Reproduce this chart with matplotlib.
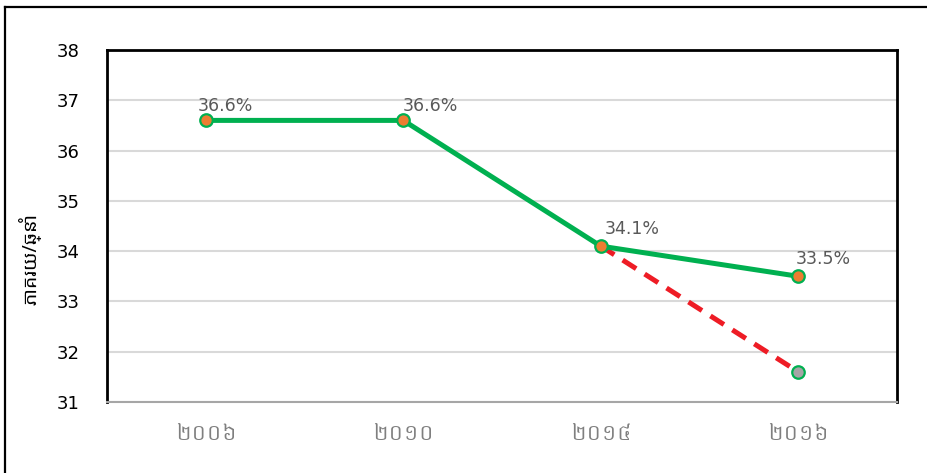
import matplotlib
matplotlib.use('Agg')
import matplotlib.pyplot as plt
from matplotlib import font_manager
from matplotlib.lines import Line2D

years = ['២០០៦', '២០១០', '២០១៤', '២០១៦']
rate = [36.6, 36.6, 34.1, 33.5]
labels = ['36.6%', '36.6%', '34.1%', '33.5%']
proj_idx = [2, 3]
proj = [34.1, 31.6]
ylabel = 'ភាគរយ/ឆ្នាំ'


def find_font(names):
    fonts = font_manager.findSystemFonts()
    for name in names:
        for f in fonts:
            if f.endswith('/' + name):
                return font_manager.FontProperties(fname=f)
    return font_manager.FontProperties(family='DejaVu Sans')


khmer_digits = find_font(['Khmer.ttf', 'Battambang-Regular.ttf', 'NotoSansKhmer[wdth,wght].ttf'])
khmer = find_font(['NotoSansKhmer[wdth,wght].ttf', 'Battambang-Regular.ttf', 'Khmer.ttf'])

fig = plt.figure(figsize=(9.27, 4.73), dpi=100)
ax = fig.add_axes([107/927, 1-402/473, 790/927, 352/473])

x = list(range(len(years)))
ax.plot(proj_idx, proj, color='#EE1C25', lw=3.6, ls=(0, (3.2, 2.0)), zorder=3)
ax.plot(proj_idx[-1], proj[-1], 'o', ms=9, mfc='#A5A5A5', mec='#00B050', mew=1.6, zorder=5)
ax.plot(x, rate, color='#00B050', lw=3.6, zorder=4)
ax.plot(x, rate, 'o', ms=9, mfc='#ED7D31', mec='#00B050', mew=1.6, zorder=6)

offsets = [(-8, 5), (-1, 5), (4, 8), (-3, 8)]
for i, (v, t) in enumerate(zip(rate, labels)):
    ax.annotate(t, (i, v), xytext=offsets[i], textcoords='offset pixels',
                ha='left', va='bottom', fontsize=12.5, color='#595959')

ax.set_xlim(-0.5, 3.5)
ax.set_ylim(31, 38)
ax.set_yticks(range(31, 39))
ax.set_xticks(x)
ax.set_xticklabels(years, fontproperties=khmer_digits, fontsize=14.5, color='#7F7F7F')
ax.tick_params(axis='x', length=0, pad=15)
ax.tick_params(axis='y', length=0, pad=20, labelsize=13, labelcolor='black')
ax.grid(axis='y', color='#D9D9D9', lw=1.5)
ax.set_axisbelow(True)
for s in ['left', 'top', 'right']:
    ax.spines[s].set_color('black')
    ax.spines[s].set_linewidth(2)
ax.spines['bottom'].set_color('#A6A6A6')
ax.spines['bottom'].set_linewidth(1.5)

fig.text(30/927, 1-259/473, ylabel, rotation=90, ha='center', va='center',
         fontproperties=khmer, fontsize=14, color='black')

# outer frame
fig.add_artist(Line2D([5/927, 5/927], [0, 1-7/473], color='black', lw=1.6))
fig.add_artist(Line2D([5/927, 1], [1-7/473, 1-7/473], color='black', lw=1.6))

fig.savefig('out.png', dpi=100)
